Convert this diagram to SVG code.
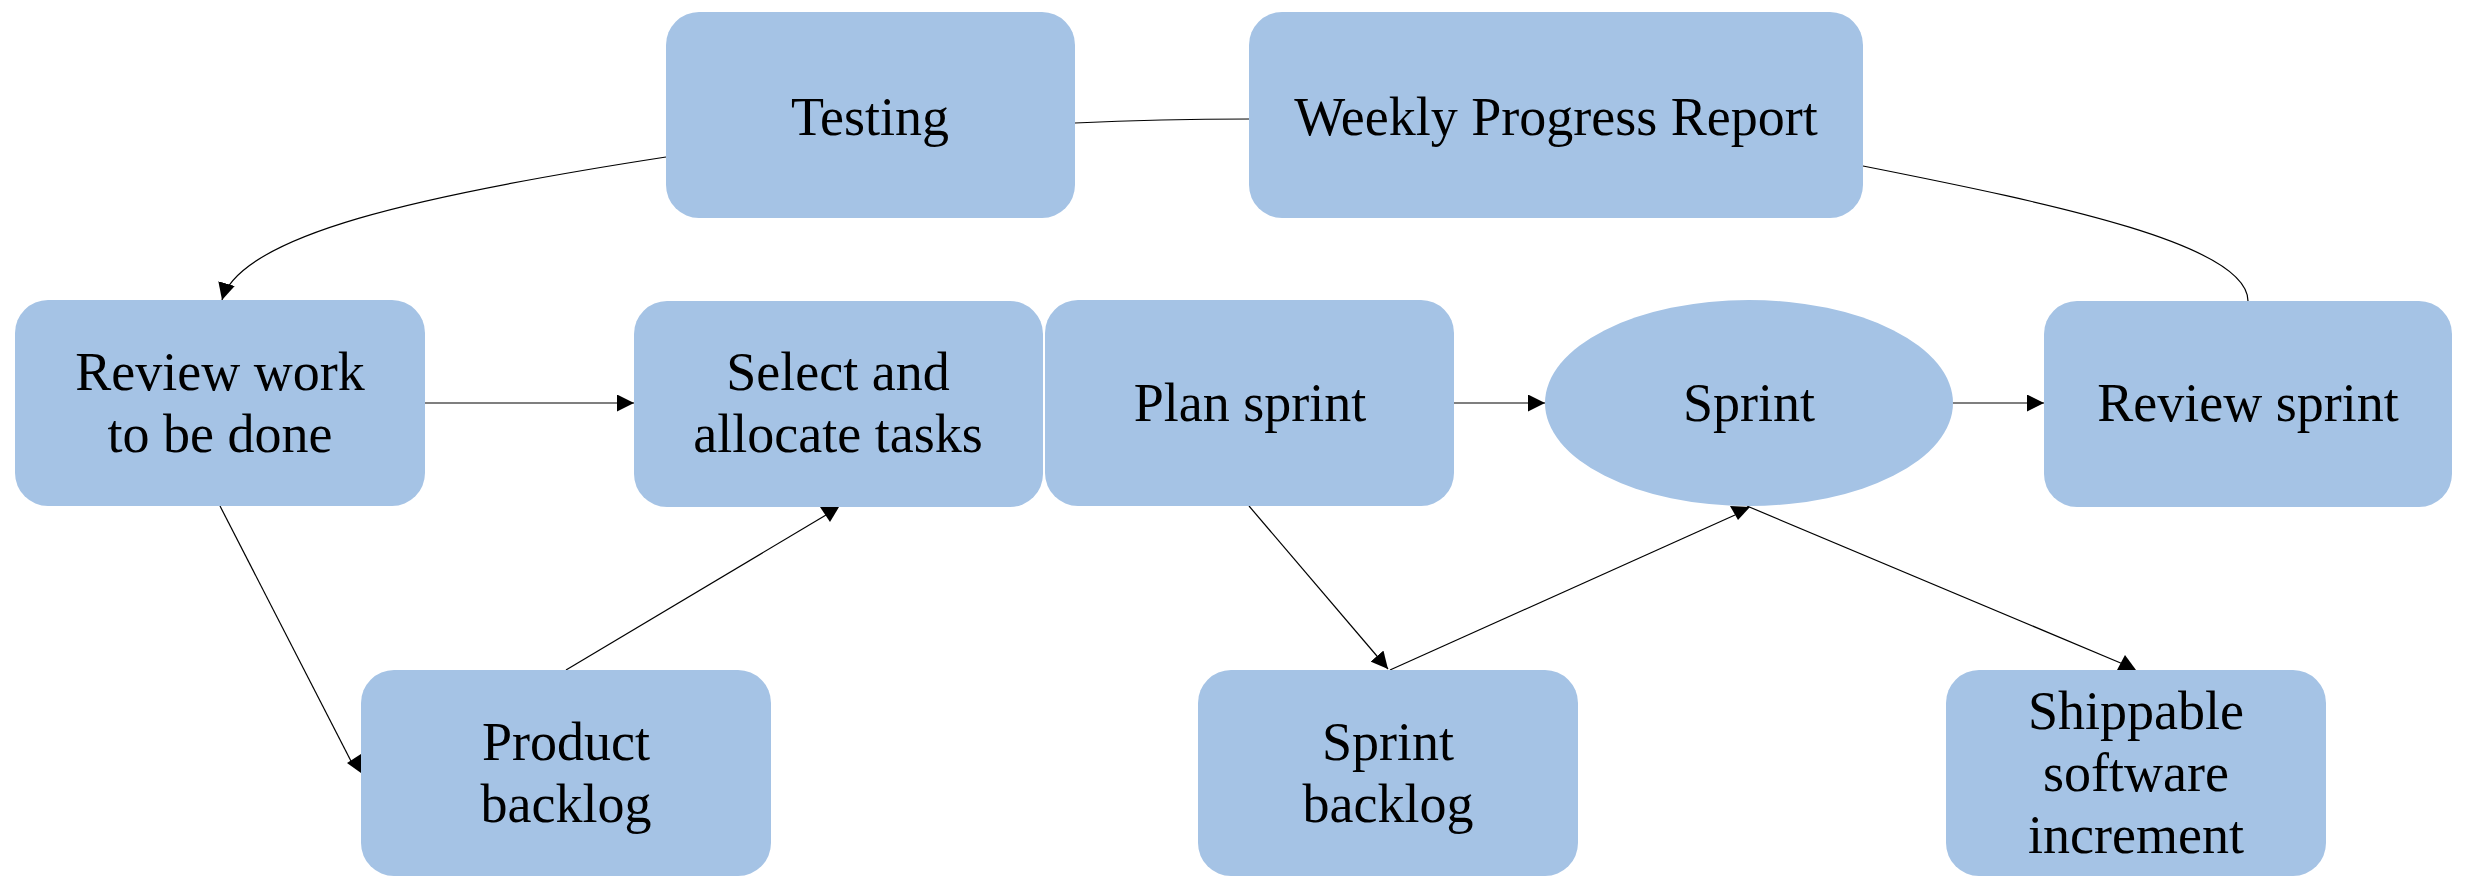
<svg xmlns="http://www.w3.org/2000/svg" width="2468" height="896" viewBox="0 0 2468 896">
<defs>
<style>
.n{fill:#a5c3e5;}
.t{font-family:"Liberation Serif","Times New Roman",serif;font-size:54px;fill:#000;text-anchor:middle;}
.c{fill:none;stroke:#000;stroke-width:1.2;}
.a{marker-end:url(#ah);}
.h{fill:#000;}
</style>
<marker id="ah" markerUnits="userSpaceOnUse" markerWidth="17" markerHeight="17" refX="17" refY="8.5" orient="auto">
<path d="M0,0 L17,8.5 L0,17 z" fill="#000"/>
</marker>
</defs>
<rect width="2468" height="896" fill="#fff"/>
<g id="connectors">
<path class="c a" d="M666,157 C420,195 240,235 222,300"/>
<path class="c" d="M1075,123 Q1160,119 1250,119"/>
<path class="c" d="M1863,166 C2060,205 2248,245 2248,301"/>
<path class="c a" d="M425,403 L634,403"/>
<path class="c a" d="M1454,403 L1545,403"/>
<path class="c a" d="M1953,403 L2044,403"/>
<path class="c" d="M220,506 L353,765"/>
<polygon class="h" points="361,754 361,773 347,763"/>
<path class="c" d="M566,670 L826,515"/>
<polygon class="h" points="820,507 839,507 830,522"/>
<path class="c a" d="M1249,506 L1388,669"/>
<path class="c" d="M1390,670 L1735,515"/>
<polygon class="h" points="1730,506 1750,507 1738,520"/>
<path class="c" d="M1747,506 L2123,664"/>
<polygon class="h" points="2117,670 2136,670 2125,655"/>
</g>
<g id="testing"><rect class="n" x="666" y="12" width="409" height="206" rx="33"/><text class="t" x="870" y="135">Testing</text></g>
<g id="weekly"><rect class="n" x="1249" y="12" width="614" height="206" rx="33"/><text class="t" x="1556" y="135">Weekly Progress Report</text></g>
<g id="review-work"><rect class="n" x="15" y="300" width="410" height="206" rx="33"/><text class="t" x="220" y="390">Review work</text><text class="t" x="220" y="452">to be done</text></g>
<g id="select"><rect class="n" x="634" y="301" width="409" height="206" rx="33"/><text class="t" x="838" y="390">Select and</text><text class="t" x="838" y="452">allocate tasks</text></g>
<g id="plan"><rect class="n" x="1045" y="300" width="409" height="206" rx="33"/><text class="t" x="1250" y="421">Plan sprint</text></g>
<g id="sprint"><ellipse class="n" cx="1749" cy="403" rx="204" ry="103"/><text class="t" x="1749" y="421">Sprint</text></g>
<g id="review-sprint"><rect class="n" x="2044" y="301" width="408" height="206" rx="33"/><text class="t" x="2248" y="421">Review sprint</text></g>
<g id="product-backlog"><rect class="n" x="361" y="670" width="410" height="206" rx="33"/><text class="t" x="566" y="760">Product</text><text class="t" x="566" y="822">backlog</text></g>
<g id="sprint-backlog"><rect class="n" x="1198" y="670" width="380" height="206" rx="33"/><text class="t" x="1388" y="760">Sprint</text><text class="t" x="1388" y="822">backlog</text></g>
<g id="shippable"><rect class="n" x="1946" y="670" width="380" height="206" rx="33"/><text class="t" x="2136" y="729">Shippable</text><text class="t" x="2136" y="791">software</text><text class="t" x="2136" y="853">increment</text></g>
</svg>
